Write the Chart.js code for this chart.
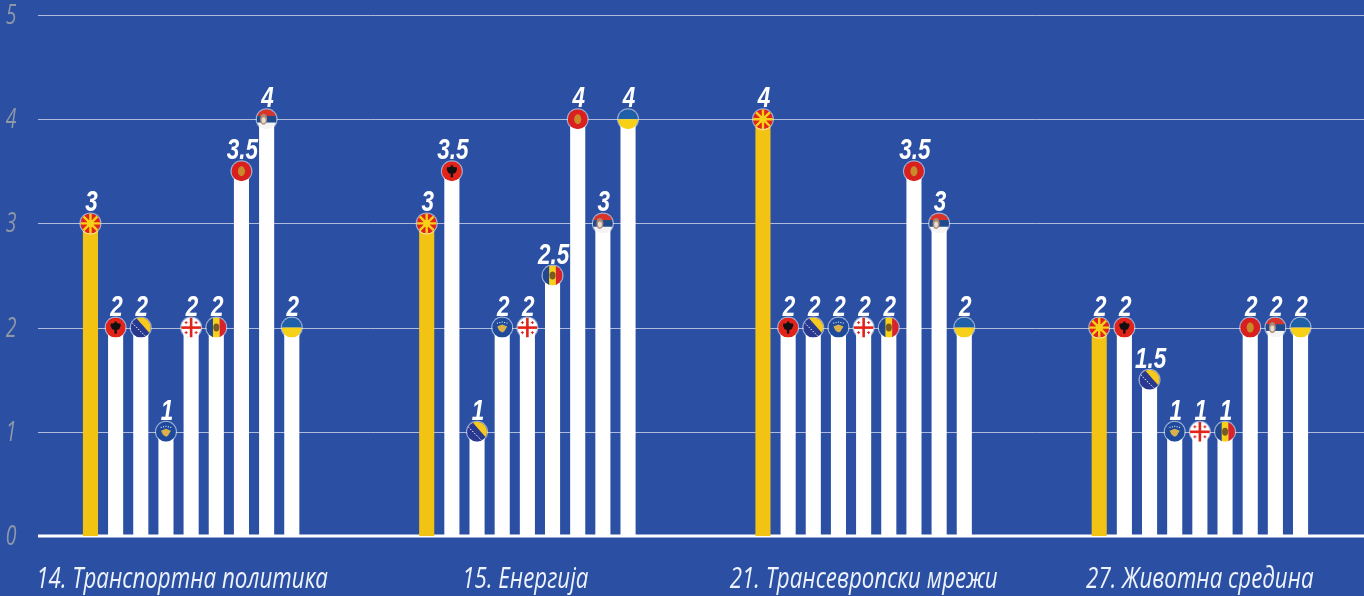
<!DOCTYPE html>
<html>
<head>
<meta charset="utf-8">
<title>Chart</title>
<script src="https://cdn.jsdelivr.net/npm/chart.js@4"></script>
<style>
  html, body { margin: 0; padding: 0; background: #2b50a3; overflow: hidden; }
  canvas { display: block; }
</style>
</head>
<body>
<canvas id="chart" width="1368" height="596"></canvas>
<script>
const categories = ['14. Транспортна политика', '15. Енергија', '21. Трансевропски мрежи', '27. Животна средина'];
const countries = ['mk', 'al', 'ba', 'xk', 'ge', 'md', 'me', 'rs', 'ua'];
const yTicks = [0, 1, 2, 3, 4, 5];

const mk = [3, 3, 4, 2];
const al = [2, 3.5, 2, 2];
const ba = [2, 1, 2, 1.5];
const xk = [1, 2, 2, 1];
const ge = [2, 2, 2, 1];
const md = [2, 2.5, 2, 1];
const me = [3.5, 4, 3.5, 2];
const rs = [4, 3, 3, 2];
const ua = [2, 4, 2, 2];
const seriesValues = [mk, al, ba, xk, ge, md, me, rs, ua];

const YELLOW = '#f2c313';
const FLAG_R = 10;

// small emblem blob used by several flags
function blob(ctx, x, y, w, h, color) {
  ctx.fillStyle = color;
  ctx.beginPath();
  ctx.ellipse(x, y, w, h, 0, 0, Math.PI * 2);
  ctx.fill();
}

// the reference font is condensed, none is installed, so text is squeezed when drawn
function squeezedText(ctx, text, x, y, font, color, squeeze) {
  ctx.save();
  ctx.translate(x, y);
  ctx.scale(squeeze, 1);
  ctx.font = font;
  ctx.fillStyle = color;
  ctx.textAlign = 'center';
  ctx.textBaseline = 'alphabetic';
  ctx.fillText(text, 0, 0);
  ctx.restore();
}

// flags are drawn around 0,0 inside a circle of radius FLAG_R
const flags = {
  mk(ctx, r) {
    ctx.fillStyle = '#e2231a';
    ctx.fillRect(-r, -r, r * 2, r * 2);
    ctx.strokeStyle = '#f7d117';
    ctx.lineWidth = 2.4;
    for (let i = 0; i < 8; i++) {
      const a = i * Math.PI / 4;
      ctx.beginPath();
      ctx.moveTo(0, 0);
      ctx.lineTo(Math.cos(a) * r, Math.sin(a) * r);
      ctx.stroke();
    }
    blob(ctx, 0, 0, 3.5, 3.5, '#f7d117');
  },
  al(ctx, r) {
    ctx.fillStyle = '#e2231a';
    ctx.fillRect(-r, -r, r * 2, r * 2);
    blob(ctx, 0, -1, 4.5, 3.5, '#111');
    ctx.fillStyle = '#111';
    ctx.fillRect(-1.2, -6, 2.4, 12);
    ctx.fillRect(-5, -4, 10, 3);
  },
  ba(ctx, r) {
    ctx.fillStyle = '#2a3990';
    ctx.fillRect(-r, -r, r * 2, r * 2);
    ctx.fillStyle = '#f7c81e';
    ctx.beginPath();
    ctx.moveTo(-5, -r);
    ctx.lineTo(r, -r);
    ctx.lineTo(r, 7);
    ctx.closePath();
    ctx.fill();
    ctx.strokeStyle = '#ffffff';
    ctx.lineWidth = 1;
    ctx.setLineDash([1.5, 1.5]);
    ctx.beginPath();
    ctx.moveTo(-9, -5);
    ctx.lineTo(5, 9);
    ctx.stroke();
    ctx.setLineDash([]);
  },
  xk(ctx, r) {
    ctx.fillStyle = '#1f4a9c';
    ctx.fillRect(-r, -r, r * 2, r * 2);
    ctx.fillStyle = '#d9b04a';
    ctx.beginPath();
    ctx.moveTo(-5, -1);
    ctx.lineTo(0, -3);
    ctx.lineTo(5, -1);
    ctx.lineTo(2, 4);
    ctx.lineTo(0, 5);
    ctx.lineTo(-3, 3);
    ctx.closePath();
    ctx.fill();
    ctx.fillStyle = '#ffffff';
    for (let i = -2; i <= 2; i++) ctx.fillRect(i * 2.4 - 0.5, -6 + Math.abs(i) * 0.5, 1, 1);
  },
  ge(ctx, r) {
    ctx.fillStyle = '#ffffff';
    ctx.fillRect(-r, -r, r * 2, r * 2);
    ctx.fillStyle = '#e2231a';
    ctx.fillRect(-r, -1.3, r * 2, 2.6);
    ctx.fillRect(-1.3, -r, 2.6, r * 2);
    [[-5, -5], [5, -5], [-5, 5], [5, 5]].forEach(p => {
      ctx.fillRect(p[0] - 1.5, p[1] - 0.5, 3, 1);
      ctx.fillRect(p[0] - 0.5, p[1] - 1.5, 1, 3);
    });
  },
  md(ctx, r) {
    ctx.fillStyle = '#23478f';
    ctx.fillRect(-r, -r, r * 2 / 3 + 0.5, r * 2);
    ctx.fillStyle = '#f7d117';
    ctx.fillRect(-r / 3, -r, r * 2 / 3, r * 2);
    ctx.fillStyle = '#d8232a';
    ctx.fillRect(r / 3, -r, r * 2 / 3, r * 2);
    blob(ctx, 0, 0, 3, 4, '#7a5a1e');
  },
  me(ctx, r) {
    ctx.fillStyle = '#d9201f';
    ctx.fillRect(-r, -r, r * 2, r * 2);
    blob(ctx, 0, 0, 3.5, 5, '#c98a2a');
  },
  rs(ctx, r) {
    ctx.fillStyle = '#d9342c';
    ctx.fillRect(-r, -r, r * 2, r * 2 / 3 + 0.5);
    ctx.fillStyle = '#1f4a8c';
    ctx.fillRect(-r, -r / 3, r * 2, r * 2 / 3 + 0.5);
    ctx.fillStyle = '#f4f4f4';
    ctx.fillRect(-r, r / 3, r * 2, r * 2 / 3);
    blob(ctx, -3, 0, 3.5, 5.5, '#b08a70');
    blob(ctx, -3, 1, 2, 3, '#e6dcd2');
  },
  ua(ctx, r) {
    ctx.fillStyle = '#1f5fa8';
    ctx.fillRect(-r, -r, r * 2, r);
    ctx.fillStyle = '#f7d117';
    ctx.fillRect(-r, 0, r * 2, r);
  }
};

// grid and tick labels come from the scales but are drawn here, to squeeze the text
const axisPlugin = {
  id: 'axisText',
  beforeDatasetsDraw(chart) {
    const { ctx, scales, chartArea } = chart;
    ctx.save();
    yTicks.forEach(v => {
      const y = Math.round(scales.y.getPixelForValue(v));
      ctx.strokeStyle = v === 0 ? '#ffffff' : 'rgba(255,255,255,0.62)';
      ctx.lineWidth = v === 0 ? 3 : 1;
      ctx.beginPath();
      ctx.moveTo(38, v === 0 ? y : y + 0.5);
      ctx.lineTo(chartArea.right, v === 0 ? y : y + 0.5);
      ctx.stroke();
      squeezedText(ctx, String(v), 11, y + 9, 'italic 27px "Open Sans"', '#8f98a8', 0.72);
    });
    ctx.restore();
    categories.forEach((c, i) => {
      // the first label sits a bit left of its group in the reference
      const shift = i === 0 ? -9 : i === 1 ? -2 : 0;
      squeezedText(ctx, c, scales.x.getPixelForTick(i) + shift, 588, 'italic 29px "Open Sans"', '#eef2fa', 0.77);
    });
  }
};

// flag and value on top of every bar
const flagPlugin = {
  id: 'flagsAndValues',
  afterDatasetsDraw(chart) {
    const { ctx } = chart;
    chart.data.datasets.forEach((ds, i) => {
      chart.getDatasetMeta(i).data.forEach((bar, j) => {
        ctx.save();
        ctx.translate(bar.x, bar.y);
        ctx.beginPath();
        ctx.arc(0, 0, FLAG_R + 1, 0, Math.PI * 2);
        ctx.fillStyle = 'rgba(255,255,255,0.55)';
        ctx.fill();
        ctx.beginPath();
        ctx.arc(0, 0, FLAG_R, 0, Math.PI * 2);
        ctx.clip();
        flags[countries[i]](ctx, FLAG_R);
        ctx.restore();

        squeezedText(ctx, String(ds.data[j]), bar.x + 1, bar.y - 12, 'italic bold 30px "Liberation Sans"', '#ffffff', 0.75);
      });
    });
  }
};

new Chart(document.getElementById('chart').getContext('2d'), {
  type: 'bar',
  data: {
    labels: categories,
    datasets: countries.map((c, i) => ({
      label: c,
      data: seriesValues[i],
      backgroundColor: i === 0 ? YELLOW : '#ffffff',
      borderWidth: 0,
      categoryPercentage: 0.6736,
      barPercentage: 0.6
    }))
  },
  plugins: [axisPlugin, flagPlugin],
  options: {
    responsive: false,
    animation: false,
    layout: { padding: { top: 15, left: 0, right: 0, bottom: 0 } },
    plugins: { legend: { display: false }, tooltip: { enabled: false } },
    scales: {
      x: {
        grid: { display: false },
        border: { display: false },
        ticks: { display: false },
        afterFit(scale) { scale.height = 60; }
      },
      y: {
        min: 0,
        max: 5,
        grid: { display: false },
        border: { display: false },
        ticks: { display: false, stepSize: 1 },
        afterFit(scale) { scale.width = 23; }
      }
    }
  }
});
</script>
</body>
</html>
